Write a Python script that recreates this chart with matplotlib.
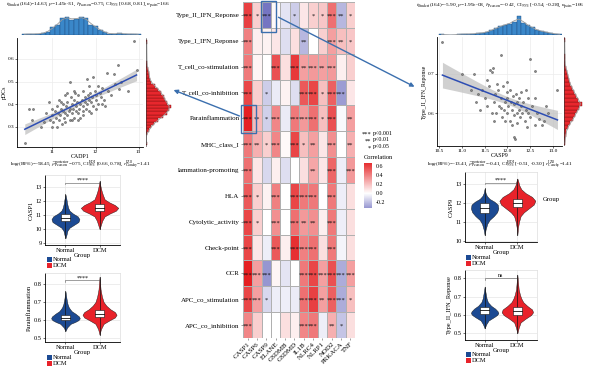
import numpy as np
import matplotlib
matplotlib.use('Agg')
import matplotlib.pyplot as plt
from matplotlib.colors import LinearSegmentedColormap, Normalize
from matplotlib.patches import Rectangle, FancyArrowPatch

plt.rcParams['font.family'] = ['Liberation Serif', 'DejaVu Serif']
plt.rcParams['mathtext.fontset'] = 'stix'

# ---------------- data ----------------
genes = ['CASP1', 'CASP6', 'CASP9', 'ELANE', 'GSDMB', 'GSDMD', 'IL1B', 'NLRC4',
         'NLRP1', 'NOD2', 'PRKACA', 'TNF']
rows = ['Type_II_IFN_Reponse', 'Type_I_IFN_Reponse', 'T_cell_co-stimulation',
        'T_cell_co-inhibition', 'Parainflammation', 'MHC_class_I', 'lammation-promoting',
        'HLA', 'Cytolytic_activity', 'Check-point', 'CCR', 'APC_co_stimulation',
        'APC_co_inhibition']
corr = [
    [0.60, 0.15, -0.42, 0.02, -0.08, -0.15, 0.08, 0.15, 0.18, 0.45, -0.22, 0.15],
    [0.40, 0.05, 0.04, 0.08, -0.10, 0.10, -0.22, 0.00, 0.15, 0.30, 0.20, 0.18],
    [0.42, 0.03, 0.00, 0.55, 0.10, 0.62, 0.30, 0.32, 0.30, 0.32, 0.05, 0.15],
    [0.58, 0.15, -0.15, -0.06, 0.04, -0.10, 0.52, 0.58, 0.20, 0.50, -0.30, 0.08],
    [0.70, 0.22, -0.14, 0.38, -0.06, 0.42, 0.32, 0.45, 0.20, 0.55, -0.02, 0.30],
    [0.42, 0.25, 0.15, 0.38, 0.02, 0.58, 0.20, 0.30, 0.08, 0.35, 0.00, 0.25],
    [0.45, 0.08, -0.12, 0.05, -0.10, 0.00, 0.10, 0.28, 0.08, 0.48, -0.05, 0.32],
    [0.52, 0.15, 0.04, 0.40, 0.00, 0.58, 0.42, 0.42, 0.00, 0.42, -0.05, 0.10],
    [0.58, 0.15, 0.00, 0.35, 0.00, 0.45, 0.32, 0.35, 0.05, 0.42, -0.05, 0.10],
    [0.58, 0.08, -0.05, 0.52, 0.05, 0.65, 0.40, 0.45, 0.10, 0.42, -0.03, 0.10],
    [0.70, 0.30, -0.32, 0.03, -0.08, 0.00, 0.42, 0.58, 0.30, 0.55, -0.25, 0.30],
    [0.58, 0.30, -0.12, -0.05, -0.05, -0.06, 0.45, 0.60, 0.30, 0.50, -0.25, 0.20],
    [0.38, 0.15, 0.00, 0.00, 0.10, 0.05, 0.38, 0.42, -0.05, 0.25, -0.18, 0.10],
]
signif = [
    ['***', '*', '***', '', '', '*', '', '*', '*', '***', '**', '*'],
    ['***', '', '', '', '', '', '**', '', '', '***', '**', '*'],
    ['***', '', '', '***', '', '***', '**', '***', '**', '***', '', ''],
    ['***', '', '*', '', '', '', '***', '***', '*', '***', '***', ''],
    ['***', '**', '*', '***', '', '***', '***', '***', '*', '***', '', '**'],
    ['***', '**', '*', '***', '', '***', '*', '**', '', '***', '', '**'],
    ['***', '', '', '', '', '', '', '**', '', '***', '', '***'],
    ['***', '*', '', '***', '', '***', '***', '***', '', '***', '', ''],
    ['***', '*', '', '***', '', '***', '**', '**', '', '***', '', ''],
    ['***', '', '', '***', '', '***', '***', '***', '', '***', '', ''],
    ['***', '***', '***', '', '', '', '***', '***', '***', '***', '***', '***'],
    ['***', '***', '*', '', '', '', '***', '***', '**', '***', '***', '*'],
    ['***', '', '', '', '', '', '***', '***', '', '**', '*', ''],
]

# left scatter: CASP1 vs pDCs
casp1_x = [10.36, 10.45, 10.55, 10.52, 10.74, 10.93, 10.85, 10.95, 11.0, 11.05, 11.02, 11.08, 11.1,
           11.12, 11.15, 11.15, 11.18, 11.2, 11.22, 11.25, 11.25, 11.28, 11.3, 11.3, 11.32, 11.35,
           11.35, 11.38, 11.4, 11.4, 11.4, 11.42, 11.45, 11.45, 11.48, 11.5, 11.5, 11.52, 11.55,
           11.55, 11.58, 11.6, 11.6, 11.62, 11.65, 11.65, 11.68, 11.7, 11.7, 11.72, 11.75, 11.75,
           11.78, 11.8, 11.8, 11.82, 11.85, 11.85, 11.88, 11.9, 11.92, 11.95, 11.95, 11.98, 12.0,
           12.02, 12.05, 12.05, 12.1, 12.12, 12.15, 12.2, 12.22, 12.26, 12.3, 12.35, 12.43, 12.45,
           12.53, 12.55, 12.6, 12.76, 12.9, 12.95, 10.8, 11.0, 11.1, 11.3, 11.45, 11.6, 11.2, 11.5,
           11.9, 12.0, 11.35, 10.98, 11.7, 11.85, 12.15]
pdcs_y = [0.227, 0.38, 0.38, 0.33, 0.30, 0.41, 0.36, 0.33, 0.35, 0.37, 0.32, 0.34, 0.39, 0.36,
          0.33, 0.42, 0.35, 0.38, 0.31, 0.37, 0.40, 0.34, 0.36, 0.44, 0.39, 0.35, 0.41, 0.37, 0.33,
          0.38, 0.50, 0.43, 0.36, 0.40, 0.38, 0.34, 0.42, 0.45, 0.37, 0.39, 0.41, 0.36, 0.44, 0.38,
          0.40, 0.34, 0.42, 0.37, 0.46, 0.39, 0.41, 0.43, 0.38, 0.40, 0.51, 0.44, 0.42, 0.37, 0.45,
          0.41, 0.43, 0.52, 0.39, 0.46, 0.42, 0.44, 0.40, 0.48, 0.45, 0.43, 0.47, 0.42, 0.39, 0.54,
          0.46, 0.44, 0.535, 0.49, 0.575, 0.465, 0.50, 0.46, 0.68, 0.55, 0.32, 0.30, 0.30, 0.32,
          0.33, 0.33, 0.41, 0.46, 0.36, 0.38, 0.45, 0.38, 0.35, 0.48, 0.40]

# right scatter: CASP9 vs Type_II_IFN_Reponse
casp9_x = [10.57, 11.01, 11.26, 11.86, 12.5, 12.61, 11.62, 11.68, 11.65, 12.15, 12.17, 13.1, 11.35,
           11.45, 11.5, 11.55, 11.6, 11.7, 11.72, 11.75, 11.8, 11.82, 11.85, 11.88, 11.9, 11.92,
           11.95, 11.98, 12.0, 12.0, 12.02, 12.05, 12.05, 12.08, 12.1, 12.12, 12.15, 12.15, 12.18,
           12.2, 12.2, 12.22, 12.25, 12.25, 12.28, 12.3, 12.32, 12.35, 12.38, 12.4, 12.42, 12.45,
           12.5, 12.55, 12.6, 12.65, 12.7, 12.75, 12.8, 12.9, 11.4, 11.55, 11.65, 11.78, 11.95,
           12.1, 12.3, 12.45, 11.85, 12.0, 11.3, 11.7, 12.6, 12.4, 11.2, 12.85]
ifn2_y = [0.78, 0.70, 0.70, 0.747, 0.738, 0.708, 0.71, 0.715, 0.705, 0.54, 0.535, 0.66, 0.65, 0.66,
          0.64, 0.62, 0.67, 0.63, 0.65, 0.60, 0.66, 0.62, 0.64, 0.59, 0.67, 0.61, 0.63, 0.655, 0.60,
          0.64, 0.62, 0.58, 0.66, 0.63, 0.61, 0.645, 0.595, 0.625, 0.65, 0.60, 0.63, 0.575, 0.61,
          0.64, 0.59, 0.62, 0.60, 0.63, 0.58, 0.61, 0.565, 0.60, 0.59, 0.62, 0.57, 0.60, 0.585,
          0.57, 0.58, 0.60, 0.61, 0.685, 0.60, 0.675, 0.58, 0.57, 0.655, 0.64, 0.615, 0.68, 0.63,
          0.58, 0.64, 0.66, 0.66, 0.62]

# marginal histogram counts (bin centres / counts)
lt_centers = [10.35, 10.46, 10.57, 10.68, 10.79, 10.90, 11.01, 11.12, 11.23, 11.34, 11.45, 11.56,
              11.67, 11.78, 11.89, 12.00, 12.11, 12.22, 12.33, 12.44, 12.55, 12.66, 12.77, 12.88, 12.99]
lt_counts = [1, 1, 1, 1, 2, 3, 8, 10, 18, 19, 16, 17, 19, 18, 11, 9, 5, 3, 1, 1, 2, 1, 1, 1, 1]
lr_centers = [0.225, 0.24, 0.255, 0.27, 0.285, 0.30, 0.315, 0.33, 0.345, 0.36, 0.375, 0.39, 0.405,
              0.42, 0.435, 0.45, 0.465, 0.48, 0.495, 0.51, 0.525, 0.54, 0.555, 0.57, 0.585, 0.675]
lr_counts = [1, 0, 0, 1, 3, 5, 8, 12, 16, 20, 22, 24, 20, 18, 17, 15, 12, 9, 5, 4, 3, 3, 2, 1, 1, 1]
rt_centers = [10.55, 10.65, 10.75, 10.85, 10.95, 11.05, 11.15, 11.25, 11.35, 11.45, 11.55, 11.65,
              11.75, 11.85, 11.95, 12.05, 12.15, 12.25, 12.35, 12.45, 12.55, 12.65, 12.75, 12.85,
              12.95, 13.05, 13.15]
rt_counts = [1, 0, 0, 0, 1, 1, 1, 1, 2, 2, 3, 5, 7, 9, 11, 12, 14, 20, 13, 10, 8, 5, 4, 3, 2, 1, 1]
rr_centers = [0.525, 0.535, 0.545, 0.555, 0.565, 0.575, 0.585, 0.595, 0.605, 0.615, 0.625, 0.635,
              0.645, 0.655, 0.665, 0.675, 0.685, 0.695, 0.705, 0.715, 0.725, 0.735, 0.745, 0.785]
rr_counts = [1, 1, 2, 2, 4, 6, 9, 11, 13, 15, 18, 14, 12, 10, 8, 6, 5, 4, 3, 2, 1, 1, 1, 1]

groups = ['Normal', 'DCM']
group_colors = ['#1c4a93', '#e8222a']

# violin outlines: (levels, half widths) per group, box stats (whisker lo, q1, med, q3, whisker hi)
casp1_prof = [
    ([9.35, 9.6, 9.9, 10.1, 10.3, 10.5, 10.7, 10.9, 11.1, 11.3, 11.5, 11.8, 12.1, 12.45],
     [0.0, 0.03, 0.06, 0.12, 0.25, 0.38, 0.41, 0.36, 0.22, 0.12, 0.08, 0.05, 0.03, 0.0]),
    ([10.0, 10.3, 10.6, 10.9, 11.1, 11.3, 11.5, 11.7, 11.9, 12.1, 12.4, 12.7, 13.0, 13.4],
     [0.0, 0.04, 0.08, 0.15, 0.30, 0.48, 0.55, 0.45, 0.28, 0.15, 0.10, 0.06, 0.03, 0.0])]
casp1_box = [(9.8, 10.55, 10.8, 11.1, 11.9), (10.4, 11.25, 11.5, 11.77, 12.6)]
para_prof = [
    ([0.54, 0.56, 0.58, 0.59, 0.60, 0.61, 0.62, 0.635, 0.65, 0.67, 0.69, 0.72, 0.76],
     [0.0, 0.05, 0.15, 0.28, 0.38, 0.42, 0.40, 0.30, 0.18, 0.10, 0.06, 0.03, 0.0]),
    ([0.52, 0.55, 0.58, 0.60, 0.615, 0.63, 0.645, 0.66, 0.68, 0.70, 0.73, 0.77, 0.84],
     [0.0, 0.04, 0.12, 0.30, 0.45, 0.50, 0.45, 0.32, 0.20, 0.12, 0.07, 0.03, 0.0])]
para_box = [(0.56, 0.60, 0.612, 0.628, 0.67), (0.55, 0.615, 0.635, 0.655, 0.72)]
casp9_prof = [
    ([10.3, 10.6, 10.9, 11.1, 11.3, 11.5, 11.7, 11.9, 12.05, 12.2, 12.35, 12.5, 12.74],
     [0.0, 0.03, 0.08, 0.15, 0.28, 0.38, 0.42, 0.40, 0.30, 0.15, 0.07, 0.03, 0.0]),
    ([10.3, 10.7, 11.0, 11.3, 11.5, 11.7, 11.9, 12.1, 12.3, 12.5, 12.7, 12.9, 13.1, 13.26],
     [0.0, 0.02, 0.05, 0.10, 0.20, 0.35, 0.50, 0.55, 0.45, 0.25, 0.12, 0.06, 0.03, 0.0])]
casp9_box = [(10.8, 11.46, 11.73, 11.98, 12.6), (11.0, 11.8, 12.0, 12.2, 12.9)]
ifn2_prof = [
    ([0.527, 0.55, 0.57, 0.59, 0.60, 0.61, 0.62, 0.635, 0.65, 0.67, 0.69, 0.71, 0.73, 0.755],
     [0.0, 0.05, 0.12, 0.30, 0.38, 0.42, 0.40, 0.32, 0.20, 0.10, 0.06, 0.04, 0.02, 0.0]),
    ([0.50, 0.53, 0.56, 0.58, 0.60, 0.615, 0.63, 0.65, 0.67, 0.69, 0.71, 0.74, 0.78, 0.82],
     [0.0, 0.04, 0.10, 0.25, 0.42, 0.48, 0.45, 0.30, 0.18, 0.12, 0.08, 0.04, 0.02, 0.0])]
ifn2_box = [(0.56, 0.605, 0.627, 0.645, 0.70), (0.54, 0.60, 0.622, 0.645, 0.72)]

# ---------------- figure ----------------
W, H = 600, 368
fig = plt.figure(figsize=(6, 3.68), dpi=100)


def ax_px(x0, y0, x1, y1):
    return fig.add_axes([x0 / W, 1 - y1 / H, (x1 - x0) / W, (y1 - y0) / H])


def ftext(x, y, s, **kw):
    fig.text(x / W, 1 - y / H, s, **kw)


# heatmap
lo, hi = -0.45, 0.72
cmap = LinearSegmentedColormap.from_list(
    'corr', [(0.0, '#6c6cbe'), ((0 - lo) / (hi - lo), '#ffffff'), (1.0, '#e41a1c')])
norm = Normalize(vmin=lo, vmax=hi)
hm = ax_px(243, 2, 355, 338)
C = np.array(corr)
hm.pcolormesh(C, cmap=cmap, norm=norm, edgecolors='#b0b0b0', linewidth=0.6)
hm.set_xlim(0, len(genes))
hm.set_ylim(len(rows), 0)
hm.set_xticks(np.arange(len(genes)) + 0.5)
hm.set_xticklabels(genes, rotation=45, ha='right', rotation_mode='anchor', fontsize=5)
hm.set_yticks(np.arange(len(rows)) + 0.5)
hm.set_yticklabels(rows, fontsize=5.0)
hm.tick_params(length=1.5, width=0.4, pad=1, color='#555555')
for s in hm.spines.values():
    s.set_visible(False)
for i, r in enumerate(signif):
    for j, st in enumerate(r):
        if st:
            hm.text(j + 0.5, i + 0.55, st, ha='center', va='center', fontsize=4.6, color='#111111')

# colorbar + significance legend
cax = ax_px(364, 163, 372, 208)
sm = plt.cm.ScalarMappable(norm=norm, cmap=cmap)
cb = fig.colorbar(sm, cax=cax)
cax.set_ylim(-0.32, 0.66)
cb.set_ticks([-0.2, 0.0, 0.2, 0.4, 0.6])
cb.set_ticklabels(['-0.2', '0.0', '0.2', '0.4', '0.6'])
cb.outline.set_visible(False)
cax.tick_params(length=1.5, width=0.4, labelsize=4.3, pad=1, color='white')
ftext(364, 160, 'Correlation', fontsize=4.6, va='bottom')
for k, (st, lab) in enumerate([('***', 'p<0.001'), ('**', 'p<0.01'), ('*', 'p<0.05')]):
    ftext(371, 134 + k * 7, st, fontsize=4.6, ha='right', va='center')
    ftext(373, 133 + k * 7, lab, fontsize=4.3, ha='left', va='center')

# highlight boxes and arrows
arrow_col = '#3b6fae'
for (x0, y0, x1, y1) in [(241, 105, 256, 133), (261, 1, 276, 32)]:
    fig.patches.append(Rectangle((x0 / W, 1 - y1 / H), (x1 - x0) / W, (y1 - y0) / H,
                                 transform=fig.transFigure, fill=False, ec=arrow_col, lw=1.0))
for (p0, p1) in [((242, 117), (171, 89)), ((276, 16), (417, 88))]:
    fig.patches.append(FancyArrowPatch((p0[0] / W, 1 - p0[1] / H), (p1[0] / W, 1 - p1[1] / H),
                                       transform=fig.transFigure, arrowstyle='-|>',
                                       mutation_scale=6, color=arrow_col, lw=1.0))


def scatter_panel(x, y, box, tbox, rbox, xlim, ylim, xticks, xtl, yticks, xlabel, ylabel,
                  tc, tcounts, tw, rc, rcounts, rw, title, foot, title_xy, foot_xy):
    x = np.array(x)
    y = np.array(y)
    ax = ax_px(*box)
    ax.set_facecolor('white')
    ax.grid(True, color='#ececec', lw=0.5)
    ax.set_axisbelow(True)
    ax.scatter(x, y, s=2.2, facecolor='#8a8a8a', edgecolor='#3a3a3a', lw=0.3, zorder=3)
    b, a = np.polyfit(x, y, 1)
    xs = np.linspace(x.min(), x.max(), 60)
    yhat = a + b * xs
    n = len(x)
    resid = y - (a + b * x)
    s = np.sqrt(np.sum(resid ** 2) / (n - 2))
    se = s * np.sqrt(1 / n + (xs - x.mean()) ** 2 / np.sum((x - x.mean()) ** 2))
    ax.fill_between(xs, yhat - 1.97 * se, yhat + 1.97 * se, color='#bdbdbd', alpha=0.7, lw=0, zorder=2)
    ax.plot(xs, yhat, color='#2d4db3', lw=1.1, zorder=4)
    ax.set_xlim(*xlim)
    ax.set_ylim(*ylim)
    ax.set_xticks(xticks)
    ax.set_xticklabels(xtl)
    ax.set_yticks(yticks)
    ax.tick_params(labelsize=3.8, length=1.2, width=0.4, pad=0.8)
    for sp in ['top', 'right']:
        ax.spines[sp].set_visible(False)
    for sp in ['left', 'bottom']:
        ax.spines[sp].set_linewidth(0.6)
    ax.set_xlabel(xlabel, fontsize=4.2, labelpad=0.0)
    ax.set_ylabel(ylabel, fontsize=4.2, labelpad=0.8)
    # top histogram
    at = ax_px(*tbox)
    at.bar(tc, tcounts, width=tw, color='#3a87c9', edgecolor='#1f4d80', lw=0.3)
    sm_ = np.convolve(tcounts, [0.25, 0.5, 0.25], mode='same')
    at.plot(tc, sm_, color='#9a9a9a', lw=0.6)
    at.axhline(0, color='#333333', lw=0.4)
    at.set_xlim(*xlim)
    at.set_ylim(0, max(tcounts) * 1.05)
    at.axis('off')
    # right histogram
    ar = ax_px(*rbox)
    ar.barh(rc, rcounts, height=rw, color='#e8272d', edgecolor='#7a1010', lw=0.3)
    sm2 = np.convolve(rcounts, [0.25, 0.5, 0.25], mode='same')
    ar.plot(sm2, rc, color='#9a9a9a', lw=0.6)
    ar.axvline(0, color='#333333', lw=0.4)
    ar.set_ylim(*ylim)
    ar.set_xlim(0, max(rcounts) * 1.05)
    ar.axis('off')
    ftext(title_xy[0], title_xy[1], title, fontsize=3.9, ha='center', va='center')
    ftext(foot_xy[0], foot_xy[1], foot, fontsize=3.8, ha='center', va='center')


scatter_panel(casp1_x, pdcs_y, (17, 38, 143, 147), (17, 16, 143, 35), (146, 38, 172, 147),
              (10.18, 13.1), (0.21, 0.693), [11, 12, 13], ['11', '12', '13'],
              [0.3, 0.4, 0.5, 0.6], 'CADP1', 'pDCs',
              lt_centers, lt_counts, 0.11, lr_centers, lr_counts, 0.015,
              r'$t_{\mathrm{Student}}$(164)=14.63, $p$=1.49e-31, $\widehat{r}_{\mathrm{Pearson}}$=0.75, '
              r'CI$_{95\%}$ [0.68, 0.81], $n_{\mathrm{pairs}}$=166',
              r'log$_e$(BF$_{01}$)=-58.45, $\widehat{\rho}_{\mathrm{Pearson}}^{\,\mathrm{posterior}}$=0.75, '
              r'CI$_{95\%}^{\mathrm{HDI}}$ [0.66, 0.78], $r_{\mathrm{Cauchy}}^{\mathrm{JZS}}$=1.41',
              (88, 5), (80, 165))

scatter_panel(casp9_x, ifn2_y, (437, 37, 562, 146), (437, 15, 562, 35), (564, 37, 583, 146),
              (10.45, 13.2), (0.518, 0.793), [10.5, 11.0, 11.5, 12.0, 12.5, 13.0],
              ['10.5', '11.0', '11.5', '12.0', '12.5', '13.0'],
              [0.6, 0.7], 'CASP9', 'Type_II_IFN_Reponse',
              rt_centers, rt_counts, 0.1, rr_centers, rr_counts, 0.01,
              r'$t_{\mathrm{Student}}$(164)=-5.90, $p$=1.99e-08, $\widehat{r}_{\mathrm{Pearson}}$=-0.42, '
              r'CI$_{95\%}$ [-0.54, -0.28], $n_{\mathrm{pairs}}$=166',
              r'log$_e$(BF$_{01}$)=-13.41, $\widehat{\rho}_{\mathrm{Pearson}}^{\,\mathrm{posterior}}$=-0.41, '
              r'CI$_{95\%}^{\mathrm{HDI}}$ [-0.51, -0.30], $r_{\mathrm{Cauchy}}^{\mathrm{JZS}}$=1.41',
              (500, 6), (500, 165))


def violin_panel(box, ylim, yticks, ytl, ylabel, prof, stats, sig, sig_y, legend_xy):
    ax = ax_px(*box)
    ax.grid(True, color='#e6e6e6', lw=0.5)
    ax.set_axisbelow(True)
    for i, ((ys, ws), st) in enumerate(zip(prof, stats)):
        pos = i + 1
        ys = np.array(ys)
        ws = np.array(ws)
        ax.fill_betweenx(ys, pos - ws, pos + ws, facecolor=group_colors[i], edgecolor='#111111',
                         lw=0.3, zorder=2)
        wl, q1, md, q3, wh = st
        ax.plot([pos, pos], [ys.min(), ys.max()], color='#111111', lw=0.5, zorder=3)
        ax.add_patch(Rectangle((pos - 0.13, q1), 0.26, q3 - q1, facecolor='white',
                               edgecolor='#111111', lw=0.4, zorder=4))
        ax.plot([pos - 0.13, pos + 0.13], [md, md], color='#111111', lw=0.6, zorder=5)
    ax.plot([1, 1, 2, 2], [sig_y[0], sig_y[1], sig_y[1], sig_y[0]], color='#555555', lw=0.4)
    ax.text(1.5, sig_y[1], sig, ha='center', va='bottom', fontsize=4.3)
    ax.set_xlim(0.4, 2.6)
    ax.set_ylim(*ylim)
    ax.set_xticks([1, 2])
    ax.set_xticklabels(groups)
    ax.set_yticks(yticks)
    ax.set_yticklabels(ytl)
    ax.tick_params(labelsize=4.6, length=1.5, width=0.4, pad=1)
    for sp in ['top', 'right']:
        ax.spines[sp].set_color('#dddddd')
        ax.spines[sp].set_linewidth(0.5)
    for sp in ['left', 'bottom']:
        ax.spines[sp].set_linewidth(0.6)
    ax.set_xlabel('Group', fontsize=4.8, labelpad=0)
    ax.set_ylabel(ylabel, fontsize=4.6, labelpad=1)
    lx, ly = legend_xy
    for k, g in enumerate(groups):
        fig.patches.append(Rectangle((lx / W, 1 - (ly + 6 * k + 5) / H), 5 / W, 5 / H,
                                     transform=fig.transFigure, facecolor=group_colors[k],
                                     edgecolor='none'))
        ftext(lx + 5.5, ly + 6 * k + 2.6, g, fontsize=4.6, va='center', ha='left')


violin_panel((45, 175, 120, 245), (8.88, 13.82), [9, 10, 11, 12, 13], ['9', '10', '11', '12', '13'],
             'CASP1', casp1_prof, casp1_box, '****', (13.15, 13.25), (47, 257))
violin_panel((45, 273, 120, 342), (0.48, 0.86), [0.5, 0.6, 0.7, 0.8], ['0.5', '0.6', '0.7', '0.8'],
             'Parainflammation', para_prof, para_box, '****', (0.81, 0.82), (47, 355))
violin_panel((465, 172, 537, 242), (9.95, 13.6), [10, 11, 12, 13], ['10', '11', '12', '13'],
             'CASP9', casp9_prof, casp9_box, '****', (12.95, 13.05), (466, 255))
violin_panel((465, 270, 537, 340), (0.464, 0.845), [0.5, 0.6, 0.7, 0.8], ['0.5', '0.6', '0.7', '0.8'],
             'Type_II_IFN_Reponse', ifn2_prof, ifn2_box, 'ns', (0.79, 0.80), (466, 352))
ftext(543, 200, 'Group', fontsize=4.8, va='center', ha='left')

fig.savefig('out.png', dpi=100)
